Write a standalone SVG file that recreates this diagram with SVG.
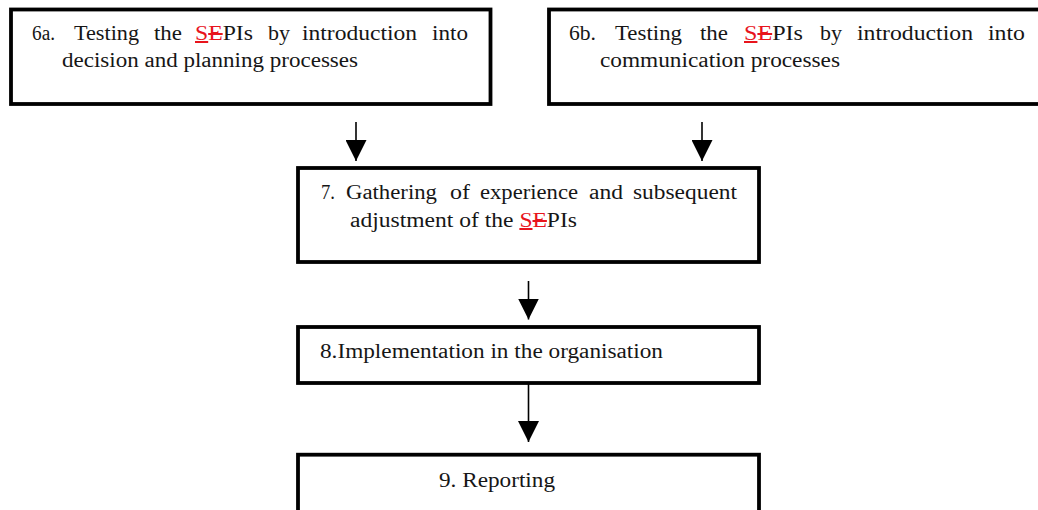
<svg xmlns="http://www.w3.org/2000/svg" width="1038" height="510" viewBox="0 0 1038 510">
  <style>
    .box { fill: #ffffff; stroke: #000000; stroke-width: 3.8; }
    .txt { font-family: "Liberation Serif", "DejaVu Serif", serif; font-size: 20px; fill: #161616; }
    .red { fill: #e8141c; }
    .u { text-decoration: underline; }
    .s { text-decoration: line-through; }
    .conn { stroke: #000000; stroke-width: 1.6; fill: none; }
  </style>
  <defs>
    <marker id="head" markerUnits="userSpaceOnUse" markerWidth="22" markerHeight="21" refX="21" refY="10.5" orient="auto">
      <path d="M0,0 L21,10.5 L0,21 Z" fill="#000000"/>
    </marker>
  </defs>
  <rect width="1038" height="510" fill="#ffffff"/>

  <!-- connectors -->
  <g id="connectors">
    <line class="conn" x1="356" y1="122" x2="356" y2="161" marker-end="url(#head)"/>
    <line class="conn" x1="702" y1="122" x2="702" y2="161" marker-end="url(#head)"/>
    <line class="conn" x1="528.5" y1="281" x2="528.5" y2="319.5" marker-end="url(#head)"/>
    <line class="conn" x1="528.5" y1="384" x2="528.5" y2="442" marker-end="url(#head)"/>
  </g>

  <!-- 6a: justified first line, hanging indent on the second -->
  <g id="node-6a">
    <rect class="box" x="11" y="9.5" width="479.5" height="94.5"/>
    <text class="txt" x="32" y="40" textLength="23" lengthAdjust="spacingAndGlyphs">6a.</text>
    <text class="txt" x="74" y="40" textLength="65" lengthAdjust="spacingAndGlyphs">Testing</text>
    <text class="txt" x="154" y="40" textLength="28" lengthAdjust="spacingAndGlyphs">the</text>
    <text class="txt" x="195" y="40" textLength="58" lengthAdjust="spacingAndGlyphs"><tspan class="red u">S</tspan><tspan class="red s">E</tspan><tspan>PIs</tspan></text>
    <text class="txt" x="268" y="40" textLength="22" lengthAdjust="spacingAndGlyphs">by</text>
    <text class="txt" x="302" y="40" textLength="115" lengthAdjust="spacingAndGlyphs">introduction</text>
    <text class="txt" x="432" y="40" textLength="36" lengthAdjust="spacingAndGlyphs">into</text>
    <text class="txt" x="62" y="67" textLength="296" lengthAdjust="spacingAndGlyphs">decision and planning processes</text>
  </g>

  <!-- 6b -->
  <g id="node-6b">
    <rect class="box" x="549" y="9.5" width="500" height="94.5"/>
    <text class="txt" x="569" y="40" textLength="27" lengthAdjust="spacingAndGlyphs">6b.</text>
    <text class="txt" x="615" y="40" textLength="67" lengthAdjust="spacingAndGlyphs">Testing</text>
    <text class="txt" x="700" y="40" textLength="28" lengthAdjust="spacingAndGlyphs">the</text>
    <text class="txt" x="744" y="40" textLength="59" lengthAdjust="spacingAndGlyphs"><tspan class="red u">S</tspan><tspan class="red s">E</tspan><tspan>PIs</tspan></text>
    <text class="txt" x="820" y="40" textLength="22" lengthAdjust="spacingAndGlyphs">by</text>
    <text class="txt" x="857" y="40" textLength="116" lengthAdjust="spacingAndGlyphs">introduction</text>
    <text class="txt" x="988" y="40" textLength="37" lengthAdjust="spacingAndGlyphs">into</text>
    <text class="txt" x="600" y="67" textLength="240" lengthAdjust="spacingAndGlyphs">communication processes</text>
  </g>

  <!-- 7 -->
  <g id="node-7">
    <rect class="box" x="298" y="168" width="461" height="94"/>
    <text class="txt" x="321" y="199" textLength="14" lengthAdjust="spacingAndGlyphs">7.</text>
    <text class="txt" x="346" y="199" textLength="91" lengthAdjust="spacingAndGlyphs">Gathering</text>
    <text class="txt" x="450" y="199" textLength="20" lengthAdjust="spacingAndGlyphs">of</text>
    <text class="txt" x="480" y="199" textLength="98" lengthAdjust="spacingAndGlyphs">experience</text>
    <text class="txt" x="589" y="199" textLength="34" lengthAdjust="spacingAndGlyphs">and</text>
    <text class="txt" x="633" y="199" textLength="104" lengthAdjust="spacingAndGlyphs">subsequent</text>
    <text class="txt" x="350" y="227" textLength="227" lengthAdjust="spacingAndGlyphs">adjustment of the <tspan class="red u">S</tspan><tspan class="red s">E</tspan><tspan>PIs</tspan></text>
  </g>

  <!-- 8 -->
  <g id="node-8">
    <rect class="box" x="298" y="327" width="461" height="56"/>
    <text class="txt" x="320" y="358" textLength="343" lengthAdjust="spacingAndGlyphs">8.Implementation in the organisation</text>
  </g>

  <!-- 9 -->
  <g id="node-9">
    <rect class="box" x="298" y="454.7" width="461" height="80"/>
    <text class="txt" x="439" y="487" textLength="116" lengthAdjust="spacingAndGlyphs">9. Reporting</text>
  </g>
</svg>
